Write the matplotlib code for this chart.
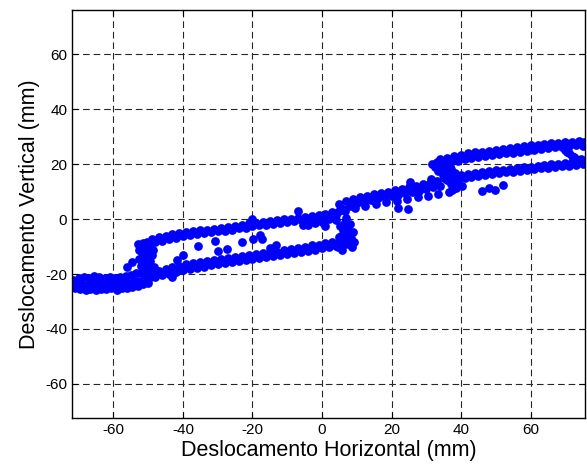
import numpy as np
import matplotlib
matplotlib.use("Agg")
import matplotlib.pyplot as plt

plt.rcParams['font.family'] = ['Liberation Sans', 'DejaVu Sans']
plt.rcParams['axes.unicode_minus'] = False

# left end cluster (rows)
clu_x = [-71.5, -70, -68.5, -67, -65.5, -64, -62.5, -61, -59.5, -58, -56.5, -55, -53.5, -52, -50.5,
         -72, -70.8, -69.2, -67.8, -66.3, -64.7, -63.2, -61.8, -60.2, -58.7, -57.3, -55.8, -54.2, -52.8, -51.2, -49.8,
         -71, -69.6, -68, -66.6, -65, -63.5, -62, -60.6, -59, -57.6, -56, -54.6, -53, -51.5, -50,
         -70.4, -67.4, -64.4, -61.4, -58.4, -55.4, -52.4, -65.8, -59.8, -71.8]
clu_y = [-22.0, -21.3, -21.0, -21.4, -20.8, -21.2, -21.5, -21.0, -21.3, -21.1, -20.6, -20.2, -19.8, -19.5, -19.0,
         -23.2, -23.8, -23.5, -23.9, -23.4, -23.7, -23.2, -23.6, -23.3, -23.5, -22.9, -23.1, -22.6, -22.4, -21.8, -21.3,
         -25.0, -25.4, -25.8, -25.3, -25.9, -25.5, -25.6, -25.2, -25.7, -25.1, -24.9, -24.6, -24.3, -23.8, -23.2,
         -24.6, -24.8, -24.4, -24.6, -24.3, -23.9, -23.1, -22.2, -22.3, -24.2]

# left loop, lower branch
low1_x = [-49, -47, -45, -43, -41, -39, -37, -35, -33, -31, -29, -27, -25, -23, -21, -19, -17, -15, -13, -11,
          -9, -7, -5, -3, -1, 1, 3,
          -48, -46, -44, -42, -40, -38, -36, -34, -32, -30, -28, -26, -24, -22, -20, -18, -16, -14, -12, -10,
          -8, -6, -4, -2, 0, 2, 4]
low1_y = [-19.4, -18.8, -18.2, -17.5, -17.0, -16.4, -16.0, -15.5, -15.2, -14.8, -14.6, -14.1, -13.8, -13.4,
          -13.1, -12.7, -12.5, -12.0, -11.8, -11.2, -10.9, -10.5, -10.1, -9.6, -9.3, -8.8, -8.2,
          -21.2, -20.5, -19.9, -19.3, -18.7, -18.1, -17.7, -17.3, -16.8, -16.5, -16.0, -15.7, -15.3, -15.0,
          -14.5, -14.2, -13.7, -13.4, -13.0, -12.6, -12.3, -11.8, -11.5, -11.1, -10.7, -10.2, -9.7]

# left loop, left side
side1_x = [-51.5, -50.5, -52, -50, -51, -49.5, -52.5, -50.8, -49, -51.8, -50.2, -48.6, -52.3, -51, -49.6,
           -53, -51.6, -50.3, -52.2, -48.2, -49.2, -50.6, -51.4, -49.8]
side1_y = [-19.0, -18.0, -17.2, -16.5, -15.8, -15.2, -14.5, -13.8, -13.0, -12.4, -11.8, -11.2, -10.6, -10.0,
           -9.5, -9.0, -8.6, -8.2, -9.6, -17.5, -12.0, -15.0, -12.9, -17.9]

# left loop, upper branch
up1_x = [-49, -47, -45, -43, -41, -39, -37, -35, -33, -31, -29, -27, -25, -23, -21, -19, -17, -15, -13, -11,
         -9, -7, -5, -3, -1, 1, 3, 5,
         -48, -46, -44, -42, -40, -38, -36, -34, -32, -30, -28, -26, -24, -22, -20, -18, -16, -14, -12, -10,
         -8, -6, -4, -2, 0, 2, 4]
up1_y = [-7.2, -6.5, -6.0, -5.6, -5.1, -4.8, -4.5, -4.1, -3.8, -3.6, -3.2, -2.8, -2.4, -2.1, -1.6, -1.3,
         -1.0, -0.7, -0.4, -0.1, 0.2, 0.5, 0.8, 1.1, 1.4, 1.9, 2.4, 3.0,
         -8.4, -7.8, -7.2, -6.8, -6.3, -5.9, -5.5, -5.2, -4.8, -4.5, -4.2, -3.8, -3.4, -3.1, -2.6, -2.3,
         -2.0, -1.7, -1.4, -1.1, -0.8, -0.5, -0.2, 0.1, 0.5, 0.9, 1.4]

# left loop, right side
side2_x = [4.5, 6, 7.5, 5, 6.8, 8.3, 5.5, 7.2, 8.8, 6, 7.6, 5.2, 8, 6.5, 4, 7, 9.2, 5.8,
           -2, 0, 2, 3, 1, -4, 8.5, 6.2, 4.8]
side2_y = [-10.2, -9.6, -9.0, -8.2, -7.6, -7.0, -6.0, -5.3, -4.6, -3.8, -3.0, -2.4, -1.8, -1.0, -0.4, 0.3,
           -8.3, -11.2,
           -1.5, -1.0, 0.0, 1.0, -2.5, -2.2, -10.0, -4.5, -6.6]

# middle band
mid_x = [5, 7, 9, 11, 13, 15, 17, 19, 21, 23, 25, 27, 29, 31, 33, 35,
         6, 8, 10, 12, 14, 16, 18, 20, 22, 24, 26, 28, 30, 32, 34,
         4, 6.5, 9.5, 12.5, 15.5, 18.5, 21.5, 24.5, 27.5, 30.5, 33.5, 36.5]
mid_y = [5.6, 6.6, 7.4, 8.0, 8.5, 9.0, 9.5, 10.0, 10.6, 11.0, 11.6, 12.1, 12.7, 13.3, 14.0, 14.8,
         3.8, 4.6, 5.8, 6.3, 6.9, 7.5, 8.0, 8.4, 8.8, 9.4, 9.9, 10.4, 10.9, 11.5, 12.2,
         2.3, 2.9, 4.2, 4.8, 5.5, 6.1, 6.7, 7.3, 7.9, 8.5, 9.2, 10.0]

# right loop, left side
side3_x = [31.5, 33, 34.5, 32.5, 34, 35.8, 33.5, 35.2, 37, 34.8, 36.5, 38.2, 36, 37.8, 39.5, 37.2, 39, 38.5,
           40.2, 33.8, 35.5, 37.5, 36.8]
side3_y = [20.0, 20.8, 21.3, 18.8, 19.3, 19.8, 17.4, 17.8, 18.4, 15.9, 16.4, 16.9, 14.3, 14.8, 15.3, 12.8,
           13.3, 11.2, 12.0, 22.0, 21.0, 10.6, 19.0]

# right loop, upper branch
up2_x = [36, 38, 40, 42, 44, 46, 48, 50, 52, 54, 56, 58, 60, 62, 64, 66, 68, 70, 72, 74, 75.5,
         37, 39, 41, 43, 45, 47, 49, 51, 53, 55, 57, 59, 61, 63, 65, 67, 69, 71, 73, 75]
up2_y = [22.3, 23.0, 23.5, 23.9, 24.3, 24.6, 24.9, 25.3, 25.6, 25.9, 26.2, 26.5, 26.8, 27.0, 27.3, 27.6,
         27.8, 28.0, 28.2, 28.3, 28.0,
         20.6, 21.3, 21.8, 22.3, 22.6, 23.0, 23.3, 23.6, 23.9, 24.2, 24.5, 24.8, 25.1, 25.5, 25.8, 26.1,
         26.3, 26.6, 26.8, 26.6]

# right loop, lower branch
low2_x = [40, 42, 44, 46, 48, 50, 52, 54, 56, 58, 60, 62, 64, 66, 68, 70, 72, 74,
          39, 41, 43, 45, 47, 49, 51, 53, 55, 57, 59, 61, 63, 65, 67, 69, 71, 73, 75]
low2_y = [16.0, 16.4, 16.8, 17.1, 17.4, 17.7, 18.0, 18.3, 18.6, 18.8, 19.1, 19.4, 19.6, 19.9, 20.1, 20.3,
          20.6, 20.8,
          14.4, 15.0, 15.3, 15.6, 16.0, 16.3, 16.7, 17.0, 17.3, 17.6, 17.9, 18.2, 18.5, 18.7, 19.0, 19.2,
          19.5, 19.7, 20.0]

# right end
end_x = [70, 71, 72, 73, 74, 75, 70.5, 72.5, 74.5]
end_y = [25.0, 24.0, 23.0, 22.0, 21.0, 20.5, 24.6, 22.6, 21.8]

# scattered points
out_x = [-54.7, -56.2, -52.7, -41.8, -40.0, -43.2, -35.6, -30.8, -29.8, -27.4, -23.1, -19.9, -17.8, -17.3,
         -20.2, -15.0, -13.2, -6.8, -5.4, 25.2, 31.3, 21.8, 24.8, 45.9, 48.1, 49.7, 52.1]
out_y = [-15.5, -17.6, -11.3, -14.9, -13.1, -21.0, -9.8, -8.0, -11.5, -11.0, -8.5, -7.2, -5.8, -7.4,
         0.2, -10.7, -9.5, 2.8, -2.2, 13.4, 14.5, 4.2, 3.5, 10.2, 11.4, 10.6, 12.4]

xs = clu_x + low1_x + side1_x + up1_x + side2_x + mid_x + side3_x + up2_x + low2_x + end_x + out_x
ys = clu_y + low1_y + side1_y + up1_y + side2_y + mid_y + side3_y + up2_y + low2_y + end_y + out_y

fig = plt.figure(figsize=(5.87, 4.66), dpi=100)
ax = fig.add_axes([0.1227, 0.1030, 0.8736, 0.8755])

ax.plot(xs, ys, 'o', color='#0000ff', markersize=6.3, markeredgewidth=0, clip_on=True)

ax.set_xlim(-71.9, 75.6)
ax.set_ylim(-72.4, 76.1)
ax.set_xticks([-60, -40, -20, 0, 20, 40, 60])
ax.set_yticks([-60, -40, -20, 0, 20, 40, 60])
ax.tick_params(direction='in', top=True, right=True, length=4, width=0.8, labelsize=11)
ax.grid(True, color='0.15', linestyle=(0, (6, 3.5)), linewidth=0.8)
for s in ax.spines.values():
    s.set_linewidth(1.0)

ax.set_xlabel('Deslocamento Horizontal (mm)', fontsize=15.5, labelpad=2)
ax.set_ylabel('Deslocamento Vertical (mm)', fontsize=15.5, labelpad=4)

fig.savefig('out.png', dpi=100)
